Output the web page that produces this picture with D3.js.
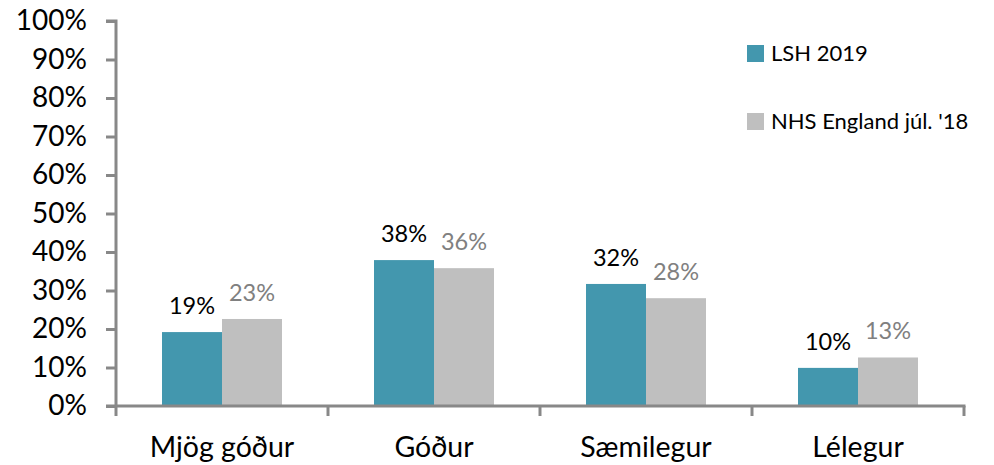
<!DOCTYPE html>
<html><head><meta charset="utf-8">
<script src="https://cdn.jsdelivr.net/npm/d3@7"></script>
<style>body{margin:0;background:#fff}svg{display:block}text{font-family:Lato,"Open Sans",sans-serif}</style>
</head><body><svg id="c" width="994" height="465"></svg>
<script>
const categories = ["Mjög góður", "Góður", "Sæmilegur", "Lélegur"];
const seriesNames = ["LSH 2019", "NHS England júl. '18"];
const lshValues = [19.2, 37.9, 31.7, 9.9];
const nhsValues = [22.6, 35.8, 28.0, 12.6];
const yTicks = [0,10,20,30,40,50,60,70,80,90,100];
const colors = ["#4397AE", "#BFBFBF"];
const labelColors = ["#000000", "#808080"];

const svg = d3.select("#c");
const pLeft = 116, pRight = 964, pTop = 21, pBottom = 406;
const x = d3.scaleBand().domain(categories).range([pLeft, pRight]).paddingInner(0).paddingOuter(0);
const y = d3.scaleLinear().domain([0,100]).range([pBottom, pTop]);
const groupW = x.bandwidth() * 0.566;
const x1 = d3.scaleBand().domain([0,1]).range([0, groupW]).padding(0);
const series = [lshValues, nhsValues];
const axisColor = "#888888";

// bars
series.forEach((vals, si) => {
  const g = svg.append("g");
  g.selectAll("rect").data(vals).enter().append("rect")
    .attr("x", (d,i) => x(categories[i]) + (x.bandwidth()-groupW)/2 + x1(si))
    .attr("y", d => y(d))
    .attr("width", x1.bandwidth())
    .attr("height", d => y(0) - y(d))
    .attr("fill", colors[si]);
  g.selectAll("text").data(vals).enter().append("text")
    .attr("x", (d,i) => x(categories[i]) + (x.bandwidth()-groupW)/2 + x1(si) + x1.bandwidth()/2)
    .attr("y", d => y(d) - 18)
    .attr("text-anchor", "middle")
    .attr("font-size", 23.5)
    .attr("fill", labelColors[si])
    .text(d => Math.round(d) + "%");
});

// y axis
const yAxis = d3.axisLeft(y).tickValues(yTicks).tickFormat(d => d + "%").tickSize(10).tickPadding(19);
const ya = svg.append("g").attr("transform", `translate(${pLeft},0)`).call(yAxis);
ya.select(".domain").attr("stroke", axisColor).attr("stroke-width", 3).attr("d", `M-10,${pTop}H0V${pBottom}`);
ya.selectAll(".tick line").attr("stroke", axisColor).attr("stroke-width", 3);
ya.selectAll(".tick text").attr("font-size", 28).attr("fill", "#000").style("font-family", "Lato");

// x axis
const xa = svg.append("g").attr("transform", `translate(0,${pBottom})`);
xa.append("line").attr("x1", pLeft - 10).attr("x2", pRight + 1.5).attr("y1", 0).attr("y2", 0)
  .attr("stroke", axisColor).attr("stroke-width", 3);
const bounds = [pLeft].concat(categories.map(c => x(c) + x.bandwidth()));
xa.selectAll("line.t").data(bounds).enter().append("line").attr("class","t")
  .attr("x1", d => d).attr("x2", d => d).attr("y1", 0).attr("y2", 10)
  .attr("stroke", axisColor).attr("stroke-width", 3);
xa.selectAll("text").data(categories).enter().append("text")
  .attr("x", d => x(d) + x.bandwidth()/2)
  .attr("y", 51)
  .attr("text-anchor", "middle")
  .attr("font-size", 28.5)
  .attr("fill", "#000")
  .text(d => d);

// legend
const legY = [45, 113];
const lg = svg.append("g");
seriesNames.forEach((n, i) => {
  lg.append("rect").attr("x", 747).attr("y", legY[i]).attr("width", 17).attr("height", 17).attr("fill", colors[i]);
  lg.append("text").attr("x", 771).attr("y", legY[i] + 16).attr("font-size", 22).attr("fill", "#000").text(n);
});
</script></body></html>
